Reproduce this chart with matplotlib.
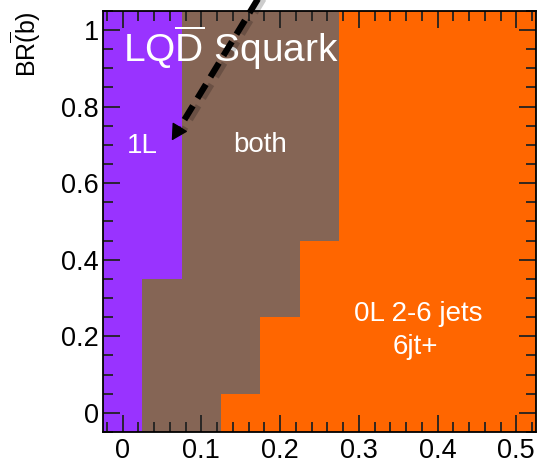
import numpy as np
import matplotlib.pyplot as plt
from matplotlib.colors import ListedColormap
from matplotlib.ticker import MultipleLocator, FuncFormatter
import matplotlib.patheffects as pe

plt.rcParams['font.family'] = ['Liberation Sans', 'DejaVu Sans']
plt.rcParams['mathtext.fontset'] = 'custom'
plt.rcParams['mathtext.rm'] = 'Liberation Sans'

# scan grid (cell centres)
x_centers = [0.0, 0.05, 0.1, 0.15, 0.2, 0.25, 0.3, 0.35, 0.4, 0.45, 0.5]
y_centers = [0.0, 0.1, 0.2, 0.3, 0.4, 0.5, 0.6, 0.7, 0.8, 0.9, 1.0]
# per row: number of columns only covered by 1L, first x covered by 0L
n_1L_cols = [1, 1, 1, 1, 2, 2, 2, 2, 2, 2, 2]
orange_from = [0.15, 0.2, 0.2, 0.25, 0.25, 0.3, 0.3, 0.3, 0.3, 0.3, 0.3]

region_colors = ['#9933ff', '#856555', '#ff6600']  # 1L, both, 0L

x = np.array(x_centers)
y = np.array(y_centers)
grid = np.ones((len(y), len(x)))
for i in range(len(y)):
    for j in range(len(x)):
        if j < n_1L_cols[i]:
            grid[i, j] = 0
        elif x[j] >= orange_from[i] - 1e-9:
            grid[i, j] = 2

dx = x[1] - x[0]
dy = y[1] - y[0]
x_edges = np.append(x - dx / 2, x[-1] + dx / 2)
y_edges = np.append(y - dy / 2, y[-1] + dy / 2)

fig = plt.figure(figsize=(5.48, 4.69), dpi=100)
ax = fig.add_axes([0.188, 0.079, 0.79, 0.898])
ax.pcolormesh(x_edges, y_edges, grid, cmap=ListedColormap(region_colors),
              vmin=-0.5, vmax=2.5, shading='flat')
ax.set_xlim(x_edges[0], x_edges[-1])
ax.set_ylim(y_edges[0], y_edges[-1])

fmt = FuncFormatter(lambda v, p: '%g' % round(v, 3))
ax.xaxis.set_major_locator(MultipleLocator(0.1))
ax.xaxis.set_minor_locator(MultipleLocator(0.02))
ax.yaxis.set_major_locator(MultipleLocator(0.2))
ax.yaxis.set_minor_locator(MultipleLocator(0.05))
ax.xaxis.set_major_formatter(fmt)
ax.yaxis.set_major_formatter(fmt)
ax.tick_params(which='both', direction='in', top=True, right=True,
               labelsize=19.5, width=1.3, color='#222222')
ax.tick_params(which='major', length=12)
ax.tick_params(axis='y', which='major', pad=3)
ax.tick_params(axis='x', which='major', pad=4)
ax.tick_params(which='minor', length=7)
for s in ax.spines.values():
    s.set_linewidth(1.3)
    s.set_zorder(5)

ax.set_ylabel(r'BR$\overline{\mathrm{(}}$b)', fontsize=18, ha='right', y=1.0,
              labelpad=13)

ax.text(0.0, 0.915, r'LQ$\overline{\mathrm{D}}$ Squark', color='white',
        fontsize=28, ha='left', va='baseline')
ax.text(0.025, 0.697, '1L', color='white', fontsize=20, ha='center', va='center')
ax.text(0.174, 0.70, 'both', color='white', fontsize=20, ha='center', va='center')
ax.text(0.375, 0.258, '0L 2-6 jets', color='white', fontsize=20,
        ha='center', va='center')
ax.text(0.372, 0.172, '6jt+', color='white', fontsize=20,
        ha='center', va='center')

# dashed pointer coming from outside the frame
tip = np.array([0.0605, 0.705])
start = np.array([0.202, 1.183])
shaft_end = tip + 0.085 * (start - tip)
head_base = tip + 0.10 * (start - tip)
shadow = [pe.SimpleLineShadow(offset=(2.5, -2.5), alpha=0.2, shadow_color='black'),
          pe.Normal()]
ax.plot([start[0], shaft_end[0]], [start[1], shaft_end[1]], color='black', lw=4.5,
        ls=(0, (2.6, 1.4)), clip_on=False, zorder=6, path_effects=shadow)
ax.annotate('', xy=tip, xytext=head_base,
            arrowprops=dict(arrowstyle='-|>,head_length=1.0,head_width=0.55',
                            color='black', lw=1),
            annotation_clip=False, zorder=7)

fig.savefig('out.png', dpi=100)
